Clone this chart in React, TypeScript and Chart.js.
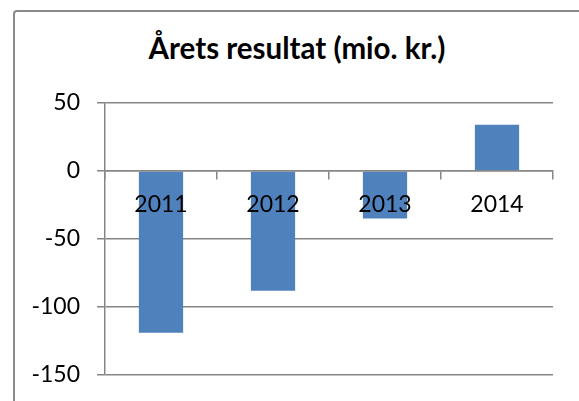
import React, { useEffect, useRef } from "react";
import { Chart, registerables } from "chart.js";

Chart.register(...registerables);

const categories = ["2011", "2012", "2013", "2014"];
const values = [-119, -88, -35, 34];
const titleText = "Årets resultat (mio. kr.)";
const yMin = -150;
const yMax = 50;
const yStep = 50;

const GRID = "#868686";
const BAR = "#4F81BD";
const FONT = "Lato, 'Open Sans', sans-serif";

export default function App() {
  const ref = useRef<HTMLCanvasElement | null>(null);

  useEffect(() => {
    if (!ref.current) return;
    const chart = new Chart(ref.current, {
      type: "bar",
      data: {
        labels: categories,
        datasets: [
          {
            data: values,
            backgroundColor: BAR,
            borderWidth: 0,
            categoryPercentage: 1,
            barPercentage: 0.395,
          },
        ],
      },
      options: {
        responsive: false,
        animation: false,
        layout: { padding: { left: 0, right: 26, top: 103, bottom: 26 } },
        plugins: {
          legend: { display: false },
          title: { display: false },
          tooltip: { enabled: false },
        },
        scales: {
          x: {
            position: { y: 0 } as any,
            offset: true,
            grid: {
              drawOnChartArea: false,
              drawTicks: true,
              tickLength: 8,
              color: GRID,
              lineWidth: 1.5,
              offset: true,
              z: 1,
            },
            border: { display: true, color: GRID, width: 1.5, z: 1 },
            ticks: {
              color: "#000",
              font: { family: FONT, size: 23 },
              padding: 12,
              maxRotation: 0,
              z: 1,
            },
            afterFit: (s: any) => {
              s.paddingLeft = 0;
              s.paddingRight = 0;
            },
          },
          y: {
            min: yMin,
            max: yMax,
            ticks: {
              stepSize: yStep,
              color: "#000",
              font: { family: FONT, size: 23 },
              padding: 17,
            },
            grid: {
              color: GRID,
              lineWidth: 1.5,
              tickLength: 8,
              drawTicks: true,
            },
            border: { display: true, color: GRID, width: 1.5 },
            afterFit: (s: any) => {
              s.width = 105;
              s.paddingTop = 0;
              s.paddingBottom = 0;
            },
          },
        },
      },
    });
    return () => chart.destroy();
  }, []);

  return (
    <div
      style={{
        position: "absolute",
        left: 0,
        top: 0,
        width: 579,
        height: 401,
        overflow: "hidden",
        background: "#fff",
      }}
    >
      <div
        style={{
          position: "absolute",
          left: 13,
          top: 10,
          width: 700,
          height: 600,
          border: "2px solid #8a8a8a",
          borderRadius: 4,
          boxSizing: "border-box",
        }}
      />
      <div
        style={{
          position: "absolute",
          left: 0,
          top: 30,
          width: 594,
          textAlign: "center",
          fontFamily: FONT,
          fontWeight: "bold",
          fontSize: 29.5,
          lineHeight: 1.2,
          color: "#000",
          whiteSpace: "nowrap",
        }}
      >
        {titleText}
      </div>
      <canvas
        ref={ref}
        width={579}
        height={401}
        style={{ position: "absolute", left: 0, top: 0, display: "block" }}
      />
    </div>
  );
}
